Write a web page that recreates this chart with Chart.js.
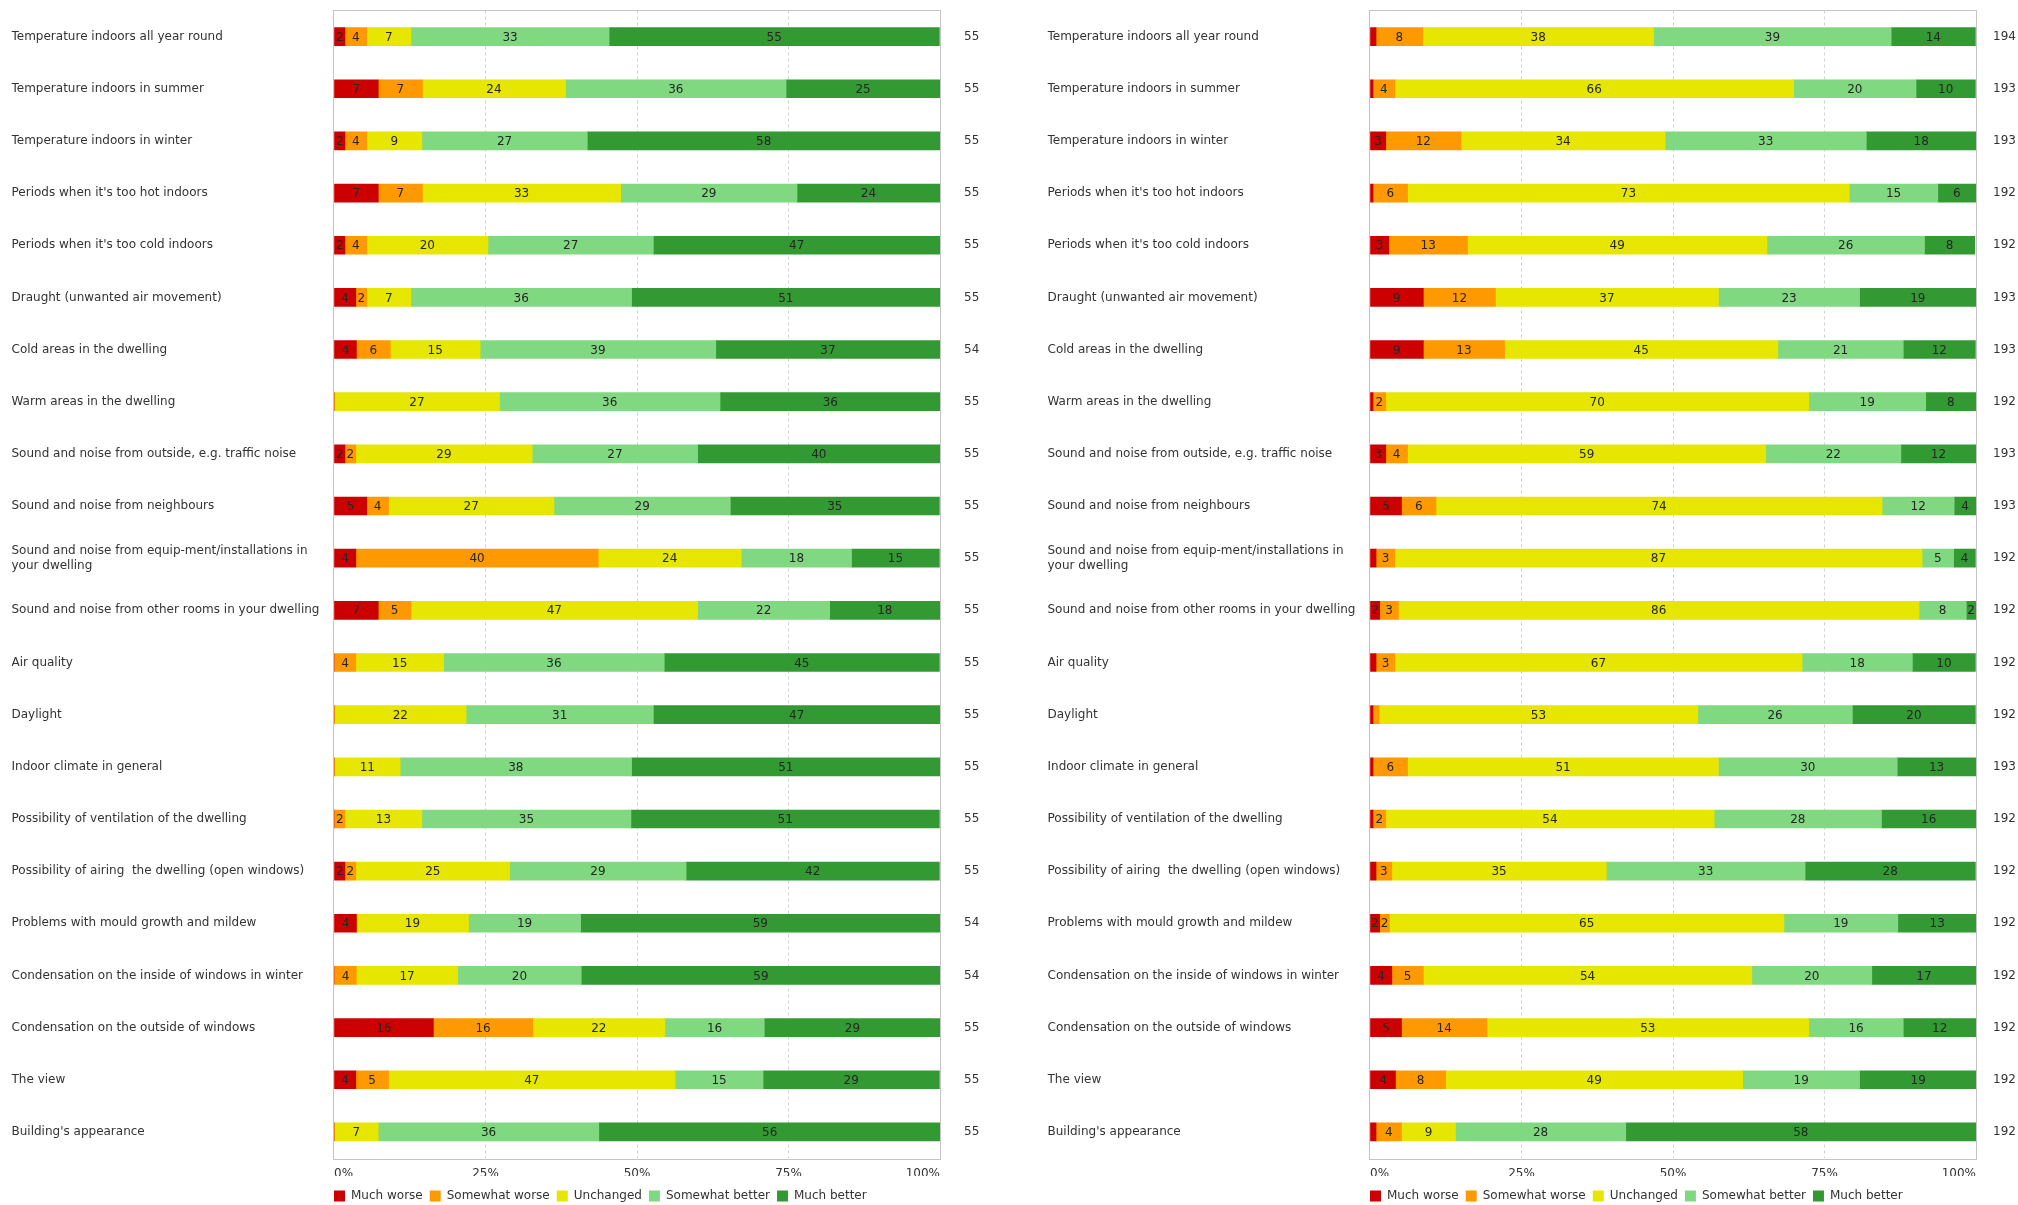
<!DOCTYPE html>
<html>
<head>
<meta charset="utf-8">
<script src="https://cdn.jsdelivr.net/npm/chart.js@4.4.1/dist/chart.umd.min.js"></script>
<style>
html, body { margin: 0; padding: 0; background: #ffffff; width: 2018px; height: 1205px; overflow: hidden; }
.wrap { position: absolute; top: 0; width: 1036px; height: 1205px; }
</style>
</head>
<body>
<div class="wrap" style="left:0"><canvas id="chartLeft" width="1036" height="1205"></canvas></div>
<div class="wrap" style="left:1036px"><canvas id="chartRight" width="1036" height="1205"></canvas></div>
<script>
// ---------- DATA ----------
const categories = [
  'Temperature indoors all year round',
  'Temperature indoors in summer',
  'Temperature indoors in winter',
  "Periods when it's too hot indoors",
  "Periods when it's too cold indoors",
  'Draught (unwanted air movement)',
  'Cold areas in the dwelling',
  'Warm areas in the dwelling',
  'Sound and noise from outside, e.g. traffic noise',
  'Sound and noise from neighbours',
  ['Sound and noise from equip-ment/installations in', 'your dwelling'],
  'Sound and noise from other rooms in your dwelling',
  'Air quality',
  'Daylight',
  'Indoor climate in general',
  'Possibility of ventilation of the dwelling',
  'Possibility of airing  the dwelling (open windows)',
  'Problems with mould growth and mildew',
  'Condensation on the inside of windows in winter',
  'Condensation on the outside of windows',
  'The view',
  "Building's appearance"
];
const seriesNames = ['Much worse', 'Somewhat worse', 'Unchanged', 'Somewhat better', 'Much better'];
const tickLabels = ['0%', '25%', '50%', '75%', '100%'];

// Left panel (percent of respondents)
const leftMuchWorse      = [1.8, 7.3, 1.8, 7.3, 1.8, 3.6, 3.7, 0, 1.8, 5.4, 3.6, 7.3, 0, 0, 0, 0, 1.8, 3.7, 0, 16.4, 3.6, 0];
const leftSomewhatWorse  = [3.6, 7.3, 3.6, 7.3, 3.6, 1.8, 5.6, 0, 1.8, 3.6, 40, 5.4, 3.6, 0, 0, 1.8, 1.8, 0, 3.7, 16.4, 5.4, 0];
const leftUnchanged      = [7.3, 23.6, 9.1, 32.7, 20, 7.3, 14.8, 27.3, 29.1, 27.3, 23.6, 47.3, 14.5, 21.8, 10.9, 12.7, 25.4, 18.5, 16.7, 21.8, 47.3, 7.3];
const leftSomewhatBetter = [32.7, 36.4, 27.3, 29.1, 27.3, 36.4, 38.9, 36.4, 27.3, 29.1, 18.2, 21.8, 36.4, 30.9, 38.2, 34.5, 29.1, 18.5, 20.4, 16.4, 14.5, 36.4];
const leftMuchBetter     = [54.5, 25.4, 58.2, 23.6, 47.3, 50.9, 37.0, 36.4, 40, 34.5, 14.5, 18.2, 45.4, 47.3, 50.9, 50.9, 41.8, 59.3, 59.3, 29.1, 29.1, 56.4];
const leftN = ['55', '55', '55', '55', '55', '55', '54', '55', '55', '55', '55', '55', '55', '55', '55', '55', '55', '54', '54', '55', '55', '55'];

// Right panel (percent of respondents)
const rightMuchWorse      = [1.0, 0.5, 2.6, 0.5, 3.1, 8.8, 8.8, 0.5, 2.6, 5.2, 1.0, 1.6, 1.0, 0.5, 0.5, 0.5, 1.0, 1.6, 3.6, 5.2, 4.2, 1.0];
const rightSomewhatWorse  = [7.7, 3.6, 12.4, 5.7, 13.0, 11.9, 13.4, 2.1, 3.6, 5.7, 3.1, 3.1, 3.1, 1.0, 5.7, 2.1, 2.6, 1.6, 5.2, 14.1, 8.3, 4.2];
const rightUnchanged      = [38.1, 65.8, 33.7, 72.9, 49.4, 36.8, 45.1, 69.8, 59.1, 73.6, 87.0, 85.9, 67.2, 52.6, 51.3, 54.2, 35.4, 65.1, 54.2, 53.1, 49.0, 8.9];
const rightSomewhatBetter = [39.2, 20.2, 33.2, 14.6, 26.0, 23.3, 20.7, 19.3, 22.3, 11.9, 5.2, 7.8, 18.2, 25.5, 29.5, 27.6, 32.8, 18.8, 19.8, 15.6, 19.3, 28.1];
const rightMuchBetter     = [13.9, 9.8, 18.1, 6.3, 8.3, 19.2, 11.9, 8.3, 12.4, 3.6, 3.6, 1.6, 10.4, 20.3, 13.0, 15.6, 28.1, 13.0, 17.2, 12.0, 19.3, 57.8];
const rightN = ['194', '193', '193', '192', '192', '193', '193', '192', '193', '193', '192', '192', '192', '192', '193', '192', '192', '192', '192', '192', '192', '192'];

// ---------- STYLE ----------
const colors = ['#cc0000', '#ff9900', '#e6e600', '#80d880', '#339933'];
Chart.defaults.font.family = "'DejaVu Sans', Verdana, sans-serif";
Chart.defaults.font.size = 12;
Chart.defaults.color = '#333333';

const frameLabelPlugin = {
  id: 'frameAndLabels',
  afterLayout(chart) {
    const lg = chart.legend;
    if (lg) {
      const pad = lg.options.labels.padding;
      lg.left = chart.chartArea.left - pad;
      lg.top = 1183;
    }
  },
  afterDatasetsDraw(chart) {
    const ctx = chart.ctx;
    const a = chart.chartArea;
    ctx.save();
    ctx.strokeStyle = '#c4c4c4';
    ctx.lineWidth = 1;
    ctx.strokeRect(Math.round(a.left) - 0.5, Math.round(a.top) - 0.5, Math.round(a.right - a.left) + 1, Math.round(a.bottom - a.top) + 1);
    ctx.font = "12px 'DejaVu Sans', Verdana, sans-serif";
    ctx.fillStyle = '#262626';
    ctx.textAlign = 'center';
    ctx.textBaseline = 'middle';
    chart.data.datasets.forEach((ds, di) => {
      const meta = chart.getDatasetMeta(di);
      meta.data.forEach((el, i) => {
        const v = ds.data[i];
        if (v >= 1.5) {
          const p = el.getCenterPoint();
          ctx.fillText(String(Math.round(v)), p.x, p.y + 1);
        }
      });
    });
    ctx.restore();
  }
};

function makeChart(id, series, nLabels, nOffset) {
  const datasets = series.map((arr, k) => ({
    label: seriesNames[k],
    data: arr,
    backgroundColor: colors[k],
    borderWidth: 0,
    barThickness: 18,
    yAxisID: 'y'
  }));
  return new Chart(document.getElementById(id), {
    type: 'bar',
    data: { labels: categories, datasets },
    options: {
      indexAxis: 'y',
      responsive: false,
      animation: false,
      devicePixelRatio: 1,
      layout: { padding: { left: 11.5, top: 10, right: 36, bottom: 0 } },
      scales: {
        x: {
          stacked: true,
          min: 0, max: 100,
          afterFit(s) { s.height = 18; },
          ticks: {
            stepSize: 25,
            align: 'inner',
            padding: 9,
            color: '#333333',
            callback: (v) => tickLabels[Math.round(v / 25)]
          },
          grid: {
            drawTicks: false,
            color: (c) => (c.tick && (c.tick.value === 0 || c.tick.value === 100)) ? 'rgba(0,0,0,0)' : '#d0d0d0'
          },
          border: { display: false, dash: [3, 3] }
        },
        y: {
          stacked: true,
          position: 'left',
          afterFit(s) { s.width = 322.5; },
          ticks: { crossAlign: 'far', color: '#333333', autoSkip: false, padding: 3, font: { lineHeight: 1.25 } },
          grid: { display: false, drawTicks: false },
          border: { display: false }
        },
        y2: {
          type: 'category',
          position: 'right',
          labels: nLabels,
          offset: true,
          afterFit(s) { s.width = 60; },
          ticks: { crossAlign: 'center', padding: 3, color: '#333333', autoSkip: false },
          grid: { display: true, drawOnChartArea: false, drawTicks: true, tickLength: nOffset, color: 'rgba(0,0,0,0)' },
          border: { display: false }
        }
      },
      plugins: {
        legend: {
          position: 'bottom',
          align: 'start',
          labels: { boxWidth: 11, boxHeight: 11, padding: 7, color: '#333333', font: { size: 12 } }
        },
        tooltip: { enabled: false }
      }
    },
    plugins: [frameLabelPlugin]
  });
}

makeChart('chartLeft', [leftMuchWorse, leftSomewhatWorse, leftUnchanged, leftSomewhatBetter, leftMuchBetter], leftN, 21);
makeChart('chartRight', [rightMuchWorse, rightSomewhatWorse, rightUnchanged, rightSomewhatBetter, rightMuchBetter], rightN, 14);
</script>
</body>
</html>
